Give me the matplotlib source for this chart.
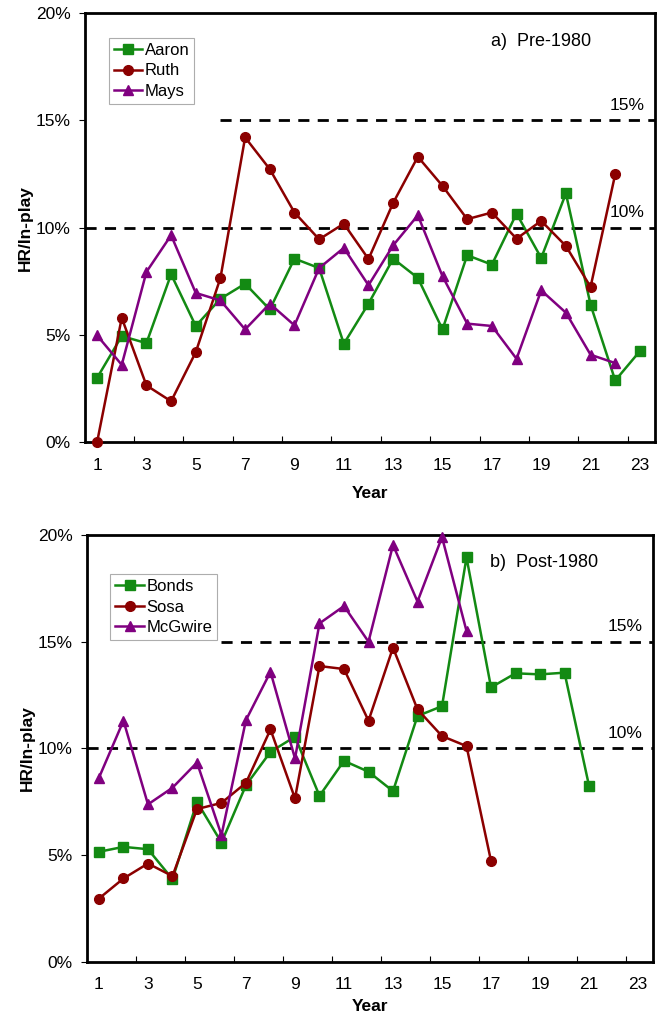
import numpy as np
import matplotlib.pyplot as plt
from matplotlib.ticker import FuncFormatter

plt.rcParams['font.family'] = ['Liberation Sans', 'DejaVu Sans']

# HR per ball in play (%) by career year
aaron = [3.0, 4.95, 4.62, 7.83, 5.42, 6.69, 7.39, 6.19, 8.56, 8.12, 4.59, 6.46,
         8.56, 7.66, 5.26, 8.72, 8.28, 10.66, 8.59, 11.6, 6.41, 2.88, 4.25]
ruth = [0.0, 5.8, 2.65, 1.91, 4.2, 7.66, 14.21, 12.73, 10.71, 9.46, 10.19, 8.54,
        11.16, 13.31, 11.95, 10.4, 10.71, 9.49, 10.32, 9.15, 7.24, 12.5]
mays = [4.98, 3.61, 7.94, 9.65, 6.96, 6.61, 5.26, 6.46, 5.45, 8.12, 9.06, 7.32,
        9.18, 10.58, 7.74, 5.53, 5.42, 3.89, 7.08, 6.04, 4.08, 3.69]

bonds = [5.16, 5.39, 5.28, 3.88, 7.5, 5.59, 8.28, 9.84, 10.55, 7.78, 9.42, 8.91,
         8.0, 11.52, 11.98, 18.95, 12.86, 13.52, 13.47, 13.55, 8.25]
sosa = [2.97, 3.91, 4.61, 4.02, 7.16, 7.45, 8.39, 10.89, 7.66, 13.86, 13.72,
        11.3, 14.72, 11.83, 10.58, 10.11, 4.73]
mcgwire = [8.63, 11.3, 7.38, 8.16, 9.34, 5.94, 11.33, 13.59, 9.53, 15.86, 16.67,
           15.0, 19.53, 16.88, 19.9, 15.5]

GREEN = '#138a13'
RED = '#8b0000'
PURPLE = '#800080'

panels = [
    ('a)  Pre-1980', [('Aaron', aaron, GREEN, 's'), ('Ruth', ruth, RED, 'o'),
                      ('Mays', mays, PURPLE, '^')], 0.942, 10),
    ('b)  Post-1980', [('Bonds', bonds, GREEN, 's'), ('Sosa', sosa, RED, 'o'),
                       ('McGwire', mcgwire, PURPLE, '^')], 0.908, 5),
]
axes_pos = [[0.128, 0.566, 0.861, 0.421], [0.131, 0.056, 0.855, 0.419]]

fig = plt.figure(figsize=(6.62, 10.19), dpi=100)

for (title, series, leg_y, xpad), pos in zip(panels, axes_pos):
    ax = fig.add_axes(pos)
    for name, vals, col, mk in series:
        yrs = np.arange(1, len(vals) + 1)
        ax.plot(yrs, vals, color=col, marker=mk, markersize=7, lw=1.8,
                label=name, clip_on=False, zorder=3)

    # reference levels
    ax.plot([6, 23.6], [15, 15], color='black', lw=2, ls=(0, (4, 3)), zorder=2)
    ax.plot([0.5, 23.6], [10, 10], color='black', lw=2, ls=(0, (4, 3)), zorder=2)
    ax.text(23.2, 15.35, '15%', ha='right', va='bottom', fontsize=12.5)
    ax.text(23.2, 10.35, '10%', ha='right', va='bottom', fontsize=12.5)
    ax.text(0.713, 0.935, title, transform=ax.transAxes, fontsize=13,
            ha='left', va='center')

    ax.set_xlim(0.5, 23.6)
    ax.set_ylim(0, 20)
    ax.set_yticks([0, 5, 10, 15, 20])
    ax.yaxis.set_major_formatter(FuncFormatter(lambda v, p: f'{v:.0f}%'))
    ax.set_xticks(np.arange(2.5, 23, 2))
    ax.set_xticklabels([])
    ax.set_xticks(np.arange(1, 24, 2), minor=True)
    ax.set_xticklabels([str(i) for i in range(1, 24, 2)], minor=True)
    ax.tick_params(axis='x', which='major', direction='in', length=4, width=0.8)
    ax.tick_params(axis='x', which='minor', length=0, pad=11, labelsize=12.5)
    ax.tick_params(axis='y', direction='out', length=4, width=0.8,
                   labelsize=12.5, pad=6)
    for sp in ax.spines.values():
        sp.set_linewidth(2)

    ax.set_xlabel('Year', fontsize=12.5, fontweight='bold', labelpad=xpad)
    ax.set_ylabel('HR/In-play', fontsize=12.5, fontweight='bold', labelpad=2)

    leg = ax.legend(loc='upper left', bbox_to_anchor=(0.042, leg_y),
                    fontsize=12, frameon=True, fancybox=False,
                    handlelength=1.7, handletextpad=0.15, borderpad=0.3,
                    labelspacing=0.32, borderaxespad=0)
    leg.get_frame().set_edgecolor('#999999')
    leg.get_frame().set_linewidth(0.8)

fig.savefig('out.png', dpi=100)
